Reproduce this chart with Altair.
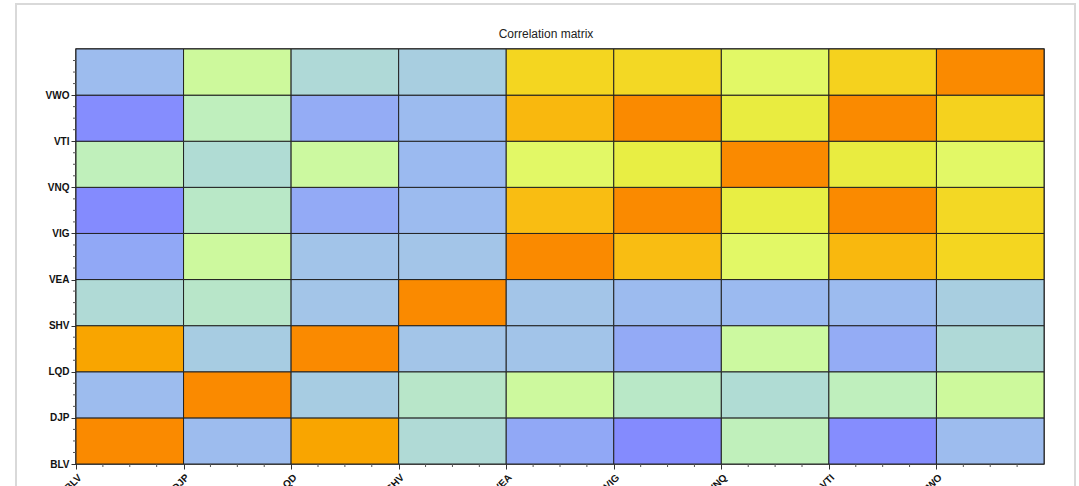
import altair as alt
import pandas as pd

# Tickers in axis order (x: left -> right, y: bottom -> top)
tickers = ["BLV", "DJP", "LQD", "SHV", "VEA", "VIG", "VNQ", "VTI", "VWO"]

# Upper triangle of the correlation matrix, one list per ticker,
# holding its correlation with every ticker that follows it.
corr_blv = [-0.18, 0.92, 0.02, -0.28, -0.39, 0.20, -0.38, -0.18]
corr_djp = [-0.06, 0.12, 0.31, 0.13, 0.03, 0.19, 0.32]
corr_lqd = [-0.10, -0.11, -0.27, 0.30, -0.26, 0.01]
corr_shv = [-0.10, -0.19, -0.20, -0.19, -0.05]
corr_vea = [0.87, 0.60, 0.88, 0.80]
corr_vig = [0.70, 0.97, 0.79]
corr_vnq = [0.71, 0.60]
corr_vti = [0.81]
upper = [corr_blv, corr_djp, corr_lqd, corr_shv, corr_vea, corr_vig, corr_vnq, corr_vti]

# Colour ramp: violet for negative, through blue/teal/green to yellow and orange
stops = [-0.4, -0.3, -0.2, -0.1, -0.05, 0.0, 0.1, 0.2, 0.3, 0.6, 0.7, 0.8, 0.87, 0.92, 0.95, 1.0]
ramp = ["#8388ff", "#8fa3f8", "#9bbaf0", "#a3c5e8", "#a8cee0", "#aed8d8", "#b6e4cc",
        "#c0f0bb", "#ccf9a0", "#e2f866", "#e8ee44", "#f4d620", "#f9bd12", "#f9a500",
        "#fa8a00", "#fa8a00"]

n = len(tickers)
matrix = [[1.0] * n for _ in range(n)]
for i, row in enumerate(upper):
    for k, v in enumerate(row):
        j = i + 1 + k
        matrix[i][j] = v
        matrix[j][i] = v

cells = pd.DataFrame(
    [{"col": c, "row": r, "col2": c + 1, "row2": r + 1, "corr": matrix[r][c],
      "pair": f"{tickers[r]} / {tickers[c]}"}
     for r in range(n) for c in range(n)]
)

# minor tick positions, four per cell
minor = [i + q for i in range(n) for q in (0.25, 0.5, 0.75)]
minor_x_df = pd.DataFrame({"col": minor})
minor_y_df = pd.DataFrame({"row": minor})

W, H = 968, 415
FONT = "Liberation Sans"
names_expr = "[" + ",".join(f"'{t}'" for t in tickers) + "][datum.value]"
dom = [0, n]
x_scale = alt.Scale(domain=dom, nice=False, zero=False)
y_scale = alt.Scale(domain=dom, nice=False, zero=False)

frame = alt.Chart(pd.DataFrame({"k": [0]})).mark_rect(
    fillOpacity=0, stroke="#d9d9d9", strokeWidth=2
).encode(
    x=alt.value(-60), x2=alt.value(999), y=alt.value(-45), y2=alt.value(520)
)

title = alt.Chart(pd.DataFrame({"t": ["Correlation matrix"]})).mark_text(
    font=FONT, fontSize=12, color="#222222", align="center", baseline="alphabetic"
).encode(text="t:N", x=alt.value(470), y=alt.value(-11))

heat = alt.Chart(cells).mark_rect(stroke="#222222", strokeWidth=1).encode(
    x=alt.X("col:Q", scale=x_scale,
            axis=alt.Axis(values=list(range(n)), labelExpr=names_expr, title=None,
                          grid=False, domain=False, labelAngle=-45, labelAlign="right",
                          labelBaseline="top", labelPadding=3, tickSize=5,
                          tickColor="#333333", labelFont=FONT, labelFontSize=10,
                          labelColor="#111111", labelFontWeight="bold")),
    x2="col2:Q",
    y=alt.Y("row:Q", scale=y_scale,
            axis=alt.Axis(values=list(range(n)), labelExpr=names_expr, title=None,
                          grid=False, domain=False, labelPadding=2, tickSize=5,
                          tickColor="#333333", labelFont=FONT, labelFontSize=10,
                          labelColor="#111111", labelFontWeight="bold",
                          labelBaseline="middle")),
    y2="row2:Q",
    color=alt.Color("corr:Q", legend=None,
                    scale=alt.Scale(domain=stops, range=ramp, interpolate="rgb")),
    tooltip=["pair:N", alt.Tooltip("corr:Q", format=".2f")],
)

minor_x = alt.Chart(minor_x_df).mark_rule(color="#555555", strokeWidth=1).encode(
    x=alt.X("col:Q", scale=x_scale, title=None),
    y=alt.value(H), y2=alt.value(H + 3),
)

minor_y = alt.Chart(minor_y_df).mark_rule(color="#555555", strokeWidth=1).encode(
    y=alt.Y("row:Q", scale=y_scale, title=None),
    x=alt.value(-3), x2=alt.value(0),
)

chart = alt.layer(frame, heat, minor_x, minor_y, title).properties(
    width=W, height=H,
    autosize=alt.AutoSizeParams(type="none"),
    padding={"left": 76, "top": 49, "right": 35, "bottom": 22},
    background="white",
).configure_view(stroke="#222222", strokeWidth=1.5)

chart.save("out.html", embed_options={"renderer": "svg", "actions": False})
